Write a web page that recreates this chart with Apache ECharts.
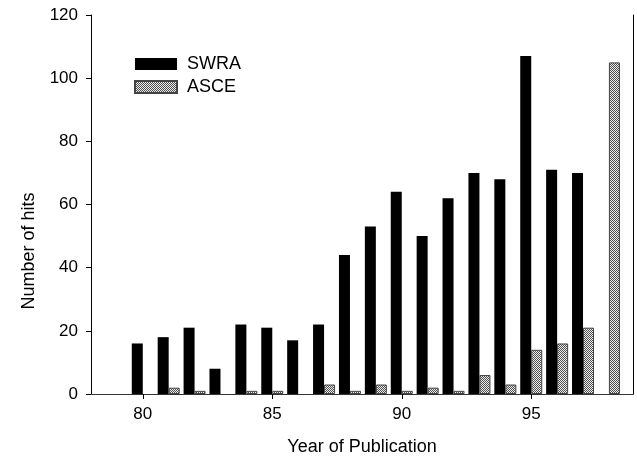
<!DOCTYPE html>
<html>
<head>
<meta charset="utf-8">
<script src="https://cdn.jsdelivr.net/npm/echarts@6/dist/echarts.min.js"></script>
<style>
html,body{margin:0;padding:0;background:#fff;}
#c{width:637px;height:461px;}
</style>
</head>
<body>
<div id="c"></div>
<script>
var years = [80,81,82,83,84,85,86,87,88,89,90,91,92,93,94,95,96,97,98];
var swra  = [16,18,21,8,22,21,17,22,44,53,64,50,62,70,68,107,71,70,null];
var asce  = [null,2,1,null,1,1,null,3,1,3,1,2,1,6,3,14,16,21,105];
var xTicks = [80,85,90,95];
var yTicks = [0,20,40,60,80,100,120];

var FONT = '"Liberation Sans", Arial, Helvetica, sans-serif';

function pairs(vals){
  var out = [];
  for (var i = 0; i < years.length; i++) {
    if (vals[i] !== null) out.push([years[i], vals[i]]);
  }
  return out;
}

var cv = document.createElement('canvas');
cv.width = 2; cv.height = 2;
var cx = cv.getContext('2d');
cx.fillStyle = '#ececec'; cx.fillRect(0,0,2,2);
cx.fillStyle = '#505050'; cx.fillRect(0,0,1,1); cx.fillRect(1,1,1,1);
var pattern = { image: cv, repeat: 'repeat' };

var chart = echarts.init(document.getElementById('c'), null, {renderer: 'canvas'});
chart.setOption({
  animation: false,
  backgroundColor: '#fff',
  textStyle: { fontFamily: FONT },
  grid: { left: 91, right: 4, top: 15, bottom: 66.5, containLabel: false },
  legend: {
    orient: 'vertical',
    left: 134, top: 55,
    padding: 0,
    icon: 'rect',
    itemWidth: 42, itemHeight: 12, itemGap: 5,
    textStyle: { fontSize: 18, color: '#000', fontFamily: FONT, lineHeight: 18, padding: [0,0,0,5] },
    data: ['SWRA', 'ASCE']
  },
  xAxis: [{
    type: 'value', min: 78, max: 98.93, position: 'bottom',
    name: 'Year of Publication', nameLocation: 'middle', nameGap: 44,
    nameTextStyle: { fontSize: 18, color: '#000', fontFamily: FONT },
    axisLine: { show: true, lineStyle: { color: '#000', width: 1 } },
    axisTick: { show: false, customValues: xTicks },
    axisLabel: { customValues: xTicks, fontSize: 17, color: '#000', margin: 12, fontFamily: FONT },
    splitLine: { show: false }
  }, {
    type: 'value', min: 78, max: 98.93, position: 'top',
    axisLine: { show: true, lineStyle: { color: '#333', width: 1 } },
    axisTick: { show: true, inside: true, length: 5, customValues: xTicks, lineStyle: { color: '#000' } },
    axisLabel: { show: false },
    splitLine: { show: false }
  }],
  yAxis: [{
    type: 'value', min: 0, max: 120, interval: 20, position: 'left',
    axisLine: { show: true, lineStyle: { color: '#000', width: 1 } },
    axisTick: { show: true, inside: false, length: 5, lineStyle: { color: '#000' } },
    axisLabel: { fontSize: 17, color: '#000', margin: 13, fontFamily: FONT },
    splitLine: { show: false }
  }, {
    type: 'value', min: 0, max: 120, interval: 20, position: 'right',
    axisLine: { show: true, lineStyle: { color: '#000', width: 1 } },
    axisTick: { show: false },
    axisLabel: { show: false },
    splitLine: { show: false }
  }],
  graphic: [{
    type: 'text',
    x: 29, y: 251,
    rotation: Math.PI / 2,
    style: {
      text: 'Number of hits',
      font: '18px ' + FONT,
      fill: '#000',
      align: 'center',
      verticalAlign: 'middle'
    }
  }],
  series: [{
    name: 'SWRA', type: 'bar', xAxisIndex: 0, yAxisIndex: 0,
    barWidth: 11, barGap: '0%',
    itemStyle: { color: '#000' },
    data: pairs(swra)
  }, {
    name: 'ASCE', type: 'bar', xAxisIndex: 0, yAxisIndex: 0,
    barWidth: 11, barGap: '0%',
    itemStyle: { color: pattern, borderColor: '#444', borderWidth: 1 },
    data: pairs(asce)
  }]
});
</script>
</body>
</html>
